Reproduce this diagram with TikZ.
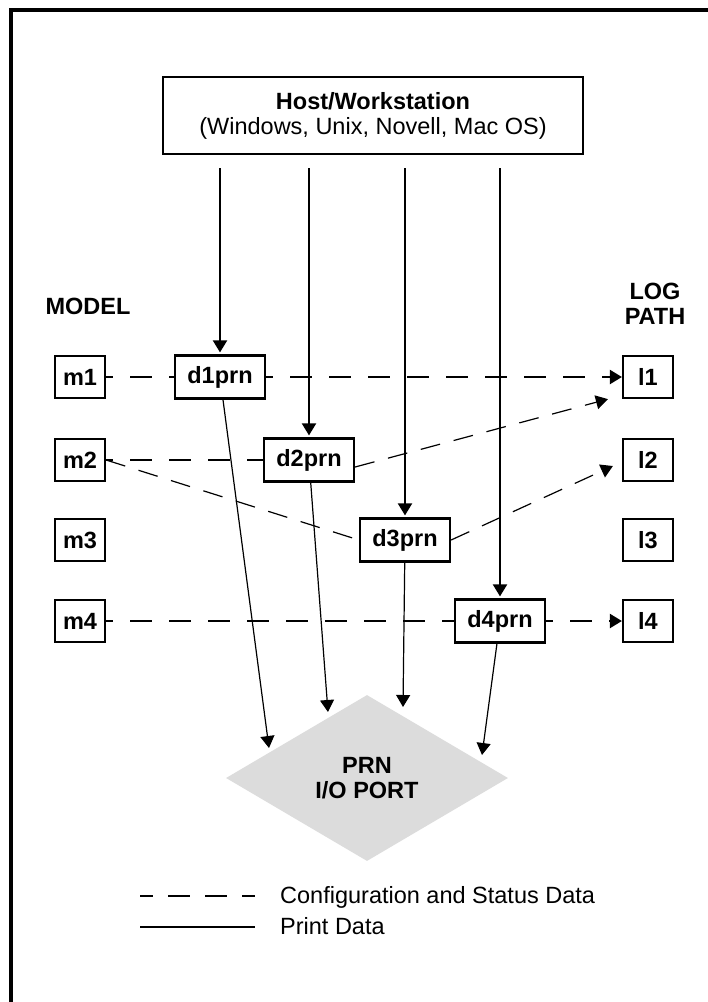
\documentclass[tikz,border=0pt]{standalone}
\usepackage{fontspec}
\setmainfont{Liberation Sans}
\usetikzlibrary{arrows.meta,shapes.geometric}
\definecolor{prngray}{RGB}{220,220,220}

\begin{document}
\begin{tikzpicture}[x=1pt,y=-1pt,font=\fontsize{23.5}{25}\selectfont]
    \tikzstyle{heavy}=[font=\fontsize{23.5}{25}\selectfont\bfseries]
    \tikzstyle{box}=[draw,heavy,line width=2.2pt,inner sep=0pt]
    \tikzstyle{mbox}=[box,minimum width=50pt,minimum height=42pt]
    \tikzstyle{dbox}=[box,minimum width=90pt,minimum height=43pt]
    \tikzstyle{tip}=[-{Triangle[length=12pt,width=14pt]}]
    \tikzstyle{feed}=[tip,line width=2pt,shorten <=13pt,shorten >=2pt]
    \tikzstyle{conf}=[line width=2.2pt,dash pattern=on 22pt off 17pt,dash phase=15pt]
    \tikzstyle{confthin}=[line width=1.2pt,dash pattern=on 20pt off 14pt]
    \tikzstyle{prt}=[tip,line width=1.2pt]

    \useasboundingbox (0,0) rectangle (708,1002);
    \draw[line width=3.5pt] (11,1002) -- (11,10) -- (708,10);

    \node[draw,line width=2.2pt,minimum width=420pt,minimum height=77pt,align=center]
      (host) at (373,115.5) {\textbf{Host/Workstation}\\(Windows, Unix, Novell, Mac OS)};

    \node[heavy] (model) at (88,306) {MODEL};
    \node[heavy,align=center] (logpath) at (655,304) {LOG\\PATH};

    \foreach \y/\r/\c in {1/377/220,2/460/309,3/540/405,4/621/500} {
      \node[mbox] (m-\y) at (80,\r) {m\y};
      \node[dbox] (d-\y) at (\c,\r) {d\y prn};
      \node[mbox] (l-\y) at (648,\r) {l\y};
    }

    \node[diamond,heavy,fill=prngray,minimum width=282pt,minimum height=166pt,
      inner sep=0pt,align=center] (prn) at (367,778) {PRN\\I/O PORT};

    % print data
    \foreach \y in {1,...,4}
    \draw[feed] (host.south -| d-\y) -- (d-\y.north);

    \coordinate (p-1) at (269,748);
    \coordinate (p-2) at (328,712);
    \coordinate (p-3) at (403,707);
    \coordinate (p-4) at (482,755);
    \foreach \y in {1,...,4}
    \draw[prt] (d-\y) -- (p-\y);

    % configuration and status data
    \draw[conf] (m-1) -- (d-1);
    \draw[conf,tip] (d-1) -- (l-1);
    \draw[conf] (m-2) -- (d-2);
    \draw[conf] (m-4) -- (d-4);
    \draw[conf,tip] (d-4) -- (l-4);
    \draw[confthin] (m-2.east) -- (d-3.west);
    \draw[confthin,tip] ([yshift=-7pt]d-2.east) -- ([xshift=-14pt]l-1.south west);
    \draw[confthin,tip] (d-3.east) -- ([xshift=-9pt,yshift=-6pt]l-2.west);

    % key
    \coordinate (k-1) at (140,896);
    \coordinate (k-2) at (255,896);
    \coordinate (k-3) at (140,927);
    \coordinate (k-4) at (255,927);
    \draw[line width=2pt,dash pattern=on 22pt off 15pt,dash phase=9pt] (k-1) -- (k-2);
    \draw[line width=1.5pt] (k-3) -- (k-4);
    \node[anchor=base west,inner sep=0pt] (key-1) at (280,903) {Configuration and Status Data};
    \node[anchor=base west,inner sep=0pt] (key-2) at (280,934) {Print Data};
\end{tikzpicture}
\end{document}
